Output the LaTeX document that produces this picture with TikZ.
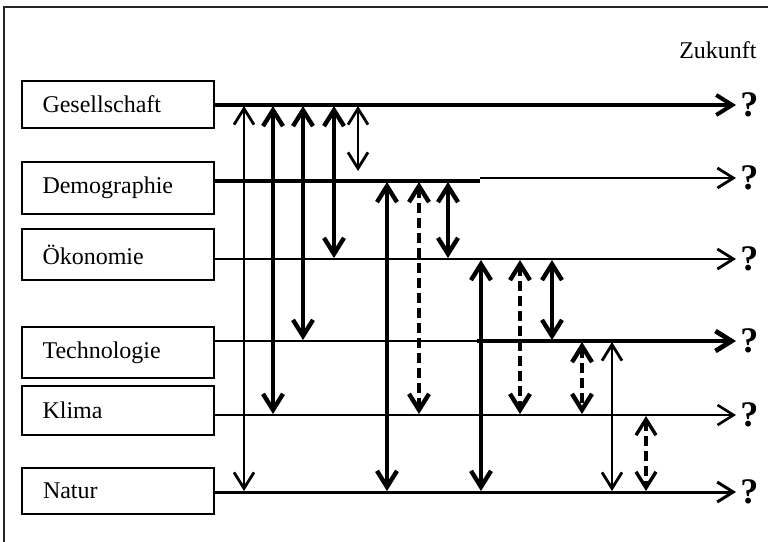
\documentclass[tikz,border=0pt]{standalone}
\usepackage{fontspec}
\setmainfont{Liberation Serif}
\usetikzlibrary{arrows.meta}

\begin{document}
\begin{tikzpicture}[x=0.5pt,y=-0.5pt,
    >={Straight Barb[length=8pt,width=10pt]},
    box/.style={draw,line width=1pt,text width=75pt,inner xsep=10.5pt,inner ysep=0pt,
        align=left,font=\fontsize{12}{14}\selectfont},
    thinarr/.style={<->,line width=1.4pt,shorten <=0.5pt,shorten >=0.5pt},
    thickarr/.style={<->,line width=2.2pt,shorten <=0.5pt,shorten >=0.5pt},
    dasharr/.style={<->,line width=2.2pt,dash pattern=on 5pt off 2.5pt,shorten <=0.5pt,shorten >=0.5pt},
    dashthin/.style={<->,line width=1.7pt,dash pattern=on 5pt off 2.5pt,shorten <=0.5pt,shorten >=0.5pt},
    frage/.style={font=\bfseries\fontsize{18}{18}\selectfont,anchor=west,inner sep=2pt}]
        \useasboundingbox (0,0) rectangle (768,542);
        \draw[line width=1.2pt,black!85] (4,560) -- (4,7) -- (790,7);
        \node[font=\fontsize{12}{14}\selectfont,anchor=east,inner sep=0pt] (zukunft) at (757,50) {Zukunft};

        % Bereiche
        \node[box,minimum height=23.5pt] (ges) at (117.5,104.5) {Gesellschaft};
        \node[box,minimum height=26pt] (dem) at (117.5,188) {Demographie};
        \node[box,minimum height=25.5pt] (oek) at (117.5,254.5) {Ökonomie};
        \node[box,minimum height=25.5pt] (tec) at (117.5,352.5) {Technologie};
        \node[box,minimum height=24.5pt] (kli) at (117.5,410.5) {Klima};
        \node[box,minimum height=23pt] (nat) at (118,491) {Natur};

        % Zeitlinien
        \coordinate (gEnd) at (736,105);
        \coordinate (dKnick) at (480,181);
        \coordinate (dEnd) at (736,178);
        \coordinate (oEnd) at (736,259);
        \coordinate (tKnick) at (477,341);
        \coordinate (tEnd) at (736,341);
        \coordinate (kEnd) at (736,415);
        \coordinate (nEnd) at (736,492);
        \coordinate (gKurz) at (358,172);

        \draw[->,line width=2pt] (ges.east |- gEnd) -- (gEnd);
        \draw[line width=1.8pt] (dem.east |- dKnick) -- (dKnick);
        \draw[->,line width=1.4pt] (dKnick |- dEnd) -- (dEnd);
        \draw[->,line width=1.4pt] (oek.east |- oEnd) -- (oEnd);
        \draw[line width=1.4pt] (tec.east |- tKnick) -- (tKnick);
        \draw[->,line width=2.4pt] (tKnick) -- (tEnd);
        \draw[->,line width=1.3pt] (kli.east |- kEnd) -- (kEnd);
        \draw[->,line width=1.5pt] (nat.east |- nEnd) -- (nEnd);

        \node[frage] (gQ) at (gEnd) {?};
        \node[frage] (dQ) at (dEnd) {?};
        \node[frage] (oQ) at (oEnd) {?};
        \node[frage] (tQ) at (tEnd) {?};
        \node[frage] (kQ) at (kEnd) {?};
        \node[frage] (nQ) at (nEnd) {?};

        % Wechselwirkungen
        \foreach \x/\von/\bis/\art in {244/gEnd/nEnd/thinarr, 273/gEnd/kEnd/thickarr,
                303/gEnd/tEnd/thickarr, 334/gEnd/oEnd/thickarr, 358/gEnd/gKurz/thinarr,
                387/dKnick/nEnd/thickarr, 419/dKnick/kEnd/dasharr, 448/dKnick/oEnd/thickarr,
                481/oEnd/nEnd/thickarr, 520/oEnd/kEnd/dasharr, 552/oEnd/tEnd/thickarr,
                582/tEnd/kEnd/dasharr, 612/tEnd/nEnd/thinarr, 646/kEnd/nEnd/dashthin} {
            \draw[\art] (\x,0 |- \von) -- (\x,0 |- \bis);
        }
\end{tikzpicture}
\end{document}
